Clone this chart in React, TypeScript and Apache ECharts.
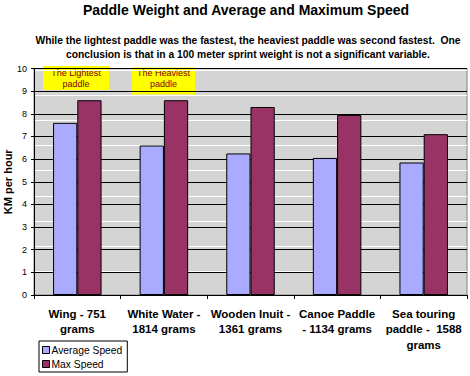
import React, { useEffect, useRef } from "react";
import * as echarts from "echarts";

const categories = [
  "Wing - 751\ngrams",
  "White Water -\n1814 grams",
  "Wooden Inuit -\n1361 grams",
  "Canoe Paddle\n- 1134 grams",
  "Sea touring\npaddle -  1588\ngrams",
];
const averageSpeed = [7.6, 6.6, 6.25, 6.05, 5.85];
const maxSpeed = [8.6, 8.6, 8.3, 7.95, 7.1];
const seriesNames = ["Average Speed", "Max Speed"];
const titleText = "Paddle Weight and Average and Maximum Speed";
const subText =
  "While the lightest paddle was the fastest, the heaviest paddle was second fastest.  One\nconclusion is that in a 100 meter sprint weight is not a significant variable.";
const notes = ["The Lightest\npaddle", "The Heaviest\npaddle"];

const FONT = "'Liberation Sans', Arial, sans-serif";

export default function App() {
  const ref = useRef<HTMLDivElement>(null);
  useEffect(() => {
    if (!ref.current) return;
    const chart = echarts.init(ref.current, undefined, { renderer: "svg" });
    const noteBox = (x: number, y: number, w: number, h: number, ty: number, text: string) => ({
      type: "group",
      left: x,
      top: y,
      z: 100,
      children: [
        { type: "rect", shape: { x: 0, y: 0, width: w, height: h }, style: { fill: "#FFFF00" } },
        {
          type: "text",
          x: w / 2,
          y: ty,
          style: {
            text,
            fill: "#800000",
            font: `9px ${FONT}`,
            align: "center",
            verticalAlign: "middle",
            lineHeight: 11.5,
          },
        },
      ],
    });
    const gridBase = { left: 34, right: 3, outerBoundsMode: "none", containLabel: false };
    chart.setOption({
      animation: false,
      backgroundColor: "#fff",
      textStyle: { fontFamily: FONT },
      title: [
        {
          text: titleText,
          left: 241,
          textAlign: "center",
          top: -2,
          textStyle: { fontSize: 14, fontWeight: "bold", color: "#000", fontFamily: FONT },
        },
        {
          text: subText,
          left: 243,
          textAlign: "center",
          top: 28,
          textStyle: { fontSize: 10.3, fontWeight: "bold", color: "#000", lineHeight: 14, fontFamily: FONT },
        },
      ],
      legend: {
        orient: "vertical",
        left: 39,
        top: 341,
        data: seriesNames,
        itemWidth: 7,
        itemHeight: 7,
        itemGap: 4,
        padding: [4, 5, 3, 3],
        borderColor: "#000",
        borderWidth: 1,
        icon: "rect",
        itemStyle: { borderColor: "#000", borderWidth: 1 },
        textStyle: { fontSize: 10.3, color: "#000", padding: [0, 0, 0, -3], fontFamily: FONT },
      },
      grid: [
        {
          ...gridBase,
          top: 68.5,
          bottom: 81,
          show: true,
          backgroundColor: "#D4D4D4",
          borderColor: "#808080",
          borderWidth: 1,
        },
        { ...gridBase, top: 70, bottom: 79.5, show: false },
      ],
      xAxis: [
        {
          type: "category",
          data: categories,
          gridIndex: 0,
          z: 3,
          axisLine: { lineStyle: { color: "#000" } },
          axisTick: { show: true, length: 4, lineStyle: { color: "#000" } },
          axisLabel: {
            interval: 0,
            fontSize: 11.5,
            fontWeight: "bold",
            color: "#000",
            lineHeight: 15.5,
            margin: 11,
            fontFamily: FONT,
          },
        },
        {
          type: "category",
          data: categories,
          gridIndex: 1,
          show: false,
        },
      ],
      yAxis: [
        {
          type: "value",
          gridIndex: 0,
          min: 0,
          max: 10,
          interval: 1,
          z: 1,
          name: "KM per hour",
          nameLocation: "middle",
          nameGap: 21,
          nameRotate: 90,
          nameMoveOverlap: false,
          nameTextStyle: { fontSize: 11, fontWeight: "bold", color: "#000", fontFamily: FONT },
          axisLine: { show: true, lineStyle: { color: "#000" } },
          axisTick: { show: true, length: 3, lineStyle: { color: "#000" } },
          axisLabel: { fontSize: 9, color: "#000", margin: 7, fontFamily: FONT },
          splitLine: { show: true, lineStyle: { color: "#000", width: 1 } },
        },
        {
          type: "value",
          gridIndex: 1,
          min: 0,
          max: 9,
          interval: 1,
          z: 0,
          axisLine: { show: false },
          axisTick: { show: false },
          axisLabel: { show: false },
          splitLine: { show: true, lineStyle: { color: "#FFFFFF", width: 1 } },
        },
      ],
      series: [
        {
          name: seriesNames[0],
          type: "bar",
          data: averageSpeed,
          barGap: "0%",
          barCategoryGap: "44%",
          z: 2,
          itemStyle: { color: "#AAAAFF", borderColor: "#000", borderWidth: 1 },
        },
        {
          name: seriesNames[1],
          type: "bar",
          data: maxSpeed,
          z: 2,
          itemStyle: { color: "#993366", borderColor: "#000", borderWidth: 1 },
        },
      ],
      graphic: [
        noteBox(43, 66, 66, 24, 12.5, notes[0]),
        noteBox(132, 67, 63, 27, 11, notes[1]),
      ],
    });
    return () => chart.dispose();
  }, []);
  return (
    <div
      ref={ref}
      style={{ position: "absolute", left: 0, top: 0, width: 470, height: 376 }}
    />
  );
}
